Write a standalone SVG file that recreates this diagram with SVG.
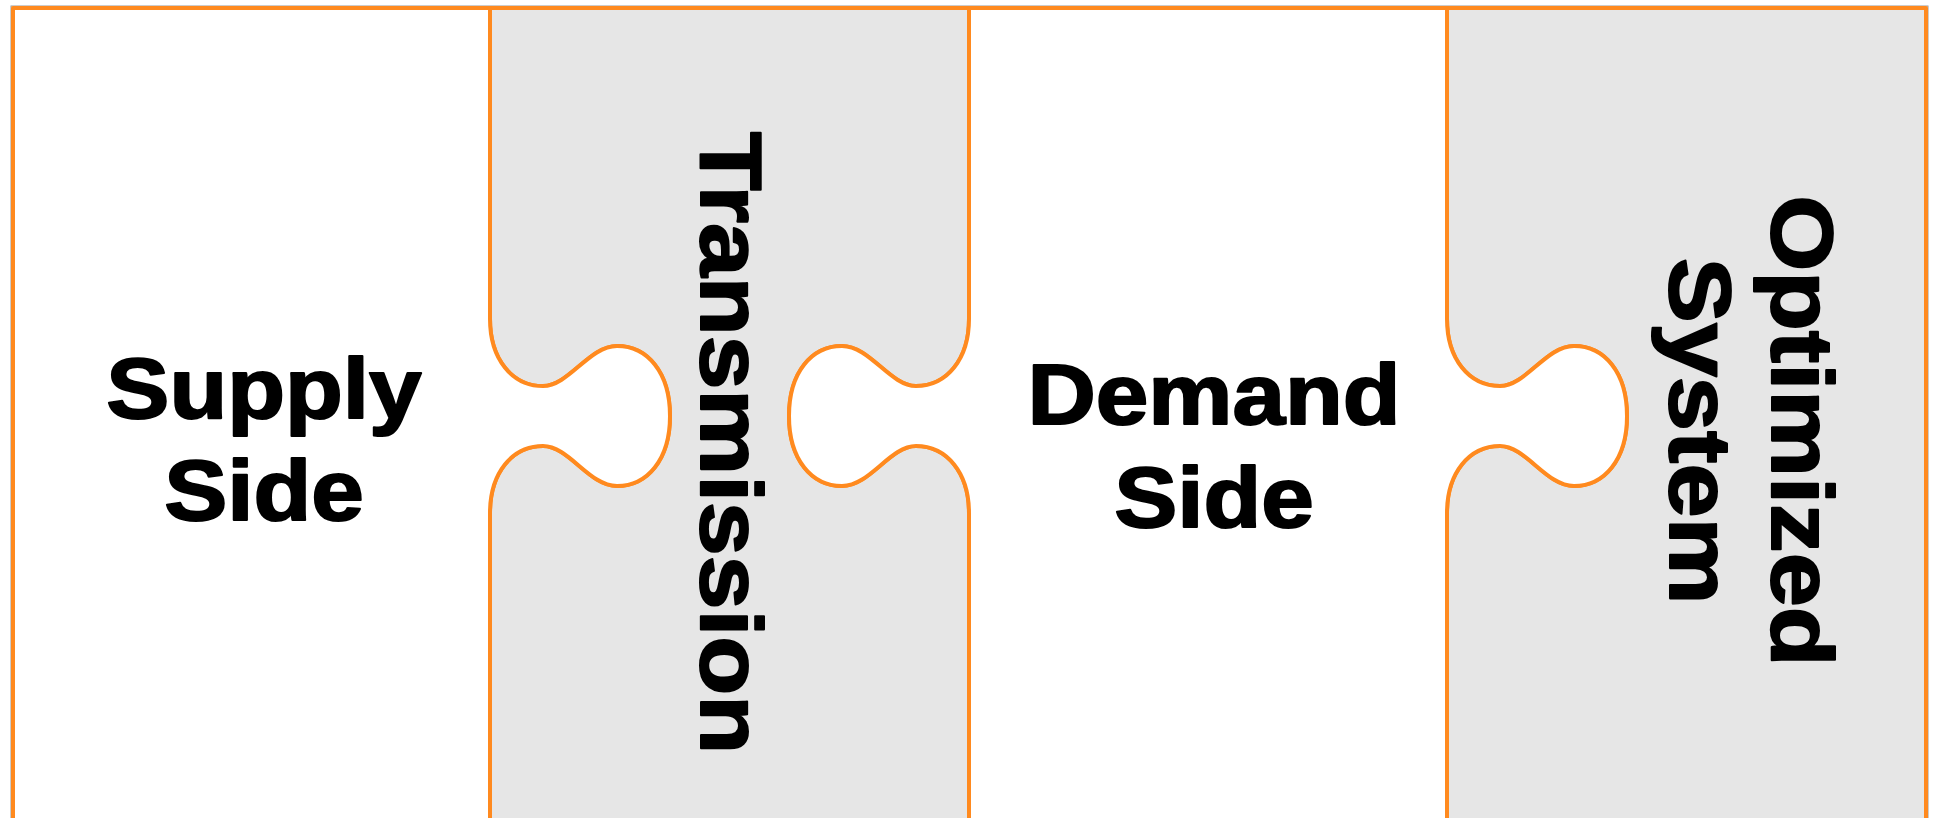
<svg xmlns="http://www.w3.org/2000/svg" width="1939" height="818" viewBox="0 0 1939 818">
<style>
.piece{stroke:#FF8A1F;stroke-width:4;stroke-linejoin:round}
.white{fill:#FFFFFF}
.grey{fill:#E6E6E6}
.lbl{font-family:"Liberation Sans",Arial,sans-serif;font-weight:bold;font-size:86px;fill:#000000;stroke:#000000;stroke-width:2;stroke-linejoin:round;text-anchor:middle}
.vlbl{font-size:87px}
</style>
<rect x="0" y="0" width="1939" height="818" fill="#FFFFFF"/>
<rect x="11" y="6" width="1917" height="830" fill="none" stroke="#9A9A9A" stroke-width="1"/>
<g id="transmission">
<path class="piece grey" d="M490,8 H969 V319 C969,359 947,386 916,386 C890,386 870,346 842,346 C812,346 789,372 789,416 C789,460 812,486 842,486 C870,486 890,446 916,446 C947,446 969,473 969,513 V830 H490 V513 C490,473 512,446 543,446 C569,446 589,486 617,486 C647,486 670,460 670,416 C670,372 647,346 617,346 C589,346 569,386 543,386 C512,386 490,359 490,319 Z"/>
<text class="lbl vlbl" transform="translate(701,443) rotate(90) scale(1.11,1)">Transmission</text>
</g>
<g id="optimized-system">
<path class="piece grey" d="M1447,8 H1926 V830 H1447 V513 C1447,473 1469,446 1500,446 C1526,446 1546,486 1574,486 C1604,486 1627,460 1627,416 C1627,372 1604,346 1574,346 C1546,346 1526,386 1500,386 C1469,386 1447,359 1447,319 Z"/>
<text class="lbl vlbl" transform="translate(1772,431) rotate(90) scale(1.12,1)">Optimized</text>
<text class="lbl vlbl" transform="translate(1670,431) rotate(90) scale(1.12,1)">System</text>
</g>
<g id="supply-side">
<path class="piece white" d="M13,8 H490 V319 C490,359 512,386 543,386 C569,386 589,346 617,346 C647,346 670,372 670,416 C670,460 647,486 617,486 C589,486 569,446 543,446 C512,446 490,473 490,513 V830 H13 Z"/>
<text class="lbl" transform="translate(264,418) scale(1.1,1)">Supply</text>
<text class="lbl" transform="translate(264,520) scale(1.1,1)">Side</text>
</g>
<g id="demand-side">
<path class="piece white" d="M969,8 H1447 V319 C1447,359 1469,386 1500,386 C1526,386 1546,346 1574,346 C1604,346 1627,372 1627,416 C1627,460 1604,486 1574,486 C1546,486 1526,446 1500,446 C1469,446 1447,473 1447,513 V830 H969 V513 C969,473 947,446 916,446 C890,446 870,486 842,486 C812,486 789,460 789,416 C789,372 812,346 842,346 C870,346 890,386 916,386 C947,386 969,359 969,319 Z"/>
<text class="lbl" transform="translate(1214,424) scale(1.1,1)">Demand</text>
<text class="lbl" transform="translate(1214,527) scale(1.1,1)">Side</text>
</g>
<g id="connectors"/>
</svg>
